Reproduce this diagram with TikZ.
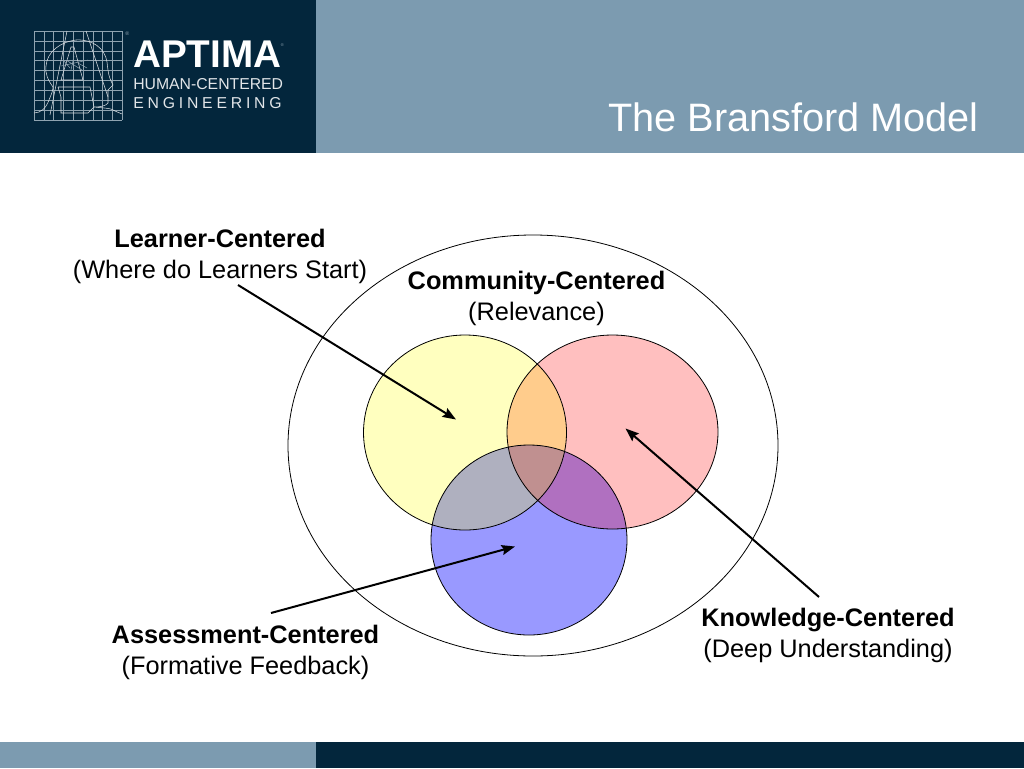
\documentclass[tikz,border=0pt]{standalone}
\usepackage{fontspec}
\setmainfont{Liberation Sans}
\usetikzlibrary{arrows.meta}
\definecolor{navy}{HTML}{03263C}
\definecolor{steel}{HTML}{7C9BB0}
\definecolor{cy}{HTML}{FFFFBF}
\definecolor{cr}{HTML}{FFBFBF}
\definecolor{cb}{HTML}{9999FF}
\definecolor{cyr}{HTML}{FFCC8C}
\definecolor{cyb}{HTML}{AFB0BF}
\definecolor{crb}{HTML}{B070C0}
\definecolor{cyrb}{HTML}{C09090}
\definecolor{logoline}{HTML}{8FA3B0}
\tikzset{
  label/.style={font=\fontsize{19}{23.25}\selectfont, align=center, inner sep=0pt, text=black},
  ring/.style={draw=black, line width=0.6pt},
  pointer/.style={draw=black, line width=1.5pt, -{Stealth[length=10pt,width=7.5pt,inset=1.5pt]}},
  grid line/.style={draw=logoline, line width=0.4pt},
  logo line/.style={draw=white!85!navy, line width=0.4pt},
  tagline/.style={inner sep=0pt,anchor=base west,text=white!88!navy,font=\fontsize{11.83}{12}\selectfont},
  yellowpath/.style={insert path={(465,432.5) ellipse [x radius=101.5, y radius=97.5]}},
  redpath/.style={insert path={(612.5,432) ellipse [x radius=105.5, y radius=97]}},
  bluepath/.style={insert path={(529,540) ellipse [x radius=98, y radius=95]}},
}
\begin{document}
\begin{tikzpicture}[x=0.75pt,y=-0.75pt]
\useasboundingbox (0,0) rectangle (1024,768);
\fill[white] (0,0) rectangle (1024,768);
% bands
\fill[steel] (316,0) rectangle (1024,153);
\fill[navy] (0,0) rectangle (316,153);
\fill[steel] (0,742) rectangle (316,768);
\fill[navy] (316,742) rectangle (1024,768);
% logo grid
\foreach \k in {0,...,9} {
  \draw[grid line] ({34+9.8*\k},31) -- ({34+9.8*\k},120);
  \draw[grid line] (34,{31+9.89*\k}) -- (122,{31+9.89*\k});
}
% logo head profile
\draw[logo line] (34,113) .. controls (41,113) and (46,108) .. (49,100) .. controls (51,95) and (53,91) .. (53,87)
  .. controls (48,80) and (45,74) .. (46,66) .. controls (47,52) and (60,42) .. (76,40)
  .. controls (92,39) and (105,48) .. (107,62) .. controls (108,70) and (108,76) .. (113,85)
  -- (108,90) -- (108,103) .. controls (106,106) and (100,107) .. (94,107)
  .. controls (102,108) and (112,108) .. (115,111) -- (122,114);
% logo letter A
\draw[logo line] (50,115) -- (67,31) (86,31) -- (108,97);
\draw[logo line] (71,47) -- (61,80) -- (83,80) -- (74,47) -- cycle;
\draw[logo line] (58,87) -- (90,87) -- (94,107) -- (88,113) -- (61,113) -- (61,97) -- (58,87);
% logo scribble
\draw[grid line] (61,66) -- (88,60) (66,60) -- (82,70) (74,56) -- (71,70) (78,63) -- (87,68) (63,60) -- (70,68);
% logo text
\node[inner sep=0pt,anchor=base west,text=white,font=\bfseries\fontsize{29}{30}\selectfont] (brand) at (133,67.5) {APTIMA};
\node[inner sep=0pt,anchor=base west,text=logoline,font=\fontsize{3}{3}\selectfont] (brandmark) at (280.5,46) {®};
\node[inner sep=0pt,anchor=base west,text=logoline,font=\fontsize{4}{4}\selectfont] (gridmark) at (125,35) {®};
\node[tagline] (tag1) at (133,89.5) {HUMAN-CENTERED};
\node[tagline] (tag2) at (133,108) {E\hspace{2.85pt}N\hspace{2.85pt}G\hspace{2.85pt}I\hspace{2.85pt}N\hspace{2.85pt}E\hspace{2.85pt}E\hspace{2.85pt}R\hspace{2.85pt}I\hspace{2.85pt}N\hspace{2.85pt}G};
% title
\node[inner sep=0pt,anchor=base east,text=white,font=\fontsize{29.75}{30}\selectfont] (title) at (979,131) {The Bransford Model};
% outer ring
\draw[ring] (533,445.5) ellipse [x radius=245, y radius=210.5];
% venn fills
\fill[cy,yellowpath];
\fill[cr,redpath];
\fill[cb,bluepath];
\begin{scope}
  \clip[yellowpath];
  \fill[cyr,redpath];
  \fill[cyb,bluepath];
  \clip[redpath];
  \fill[cyrb,bluepath];
\end{scope}
\begin{scope}
  \clip[redpath];
  \begin{scope}[even odd rule]
    \clip[yellowpath] (0,0) rectangle (1024,768);
    \fill[crb,bluepath];
  \end{scope}
\end{scope}
\draw[ring,yellowpath];
\draw[ring,redpath];
\draw[ring,bluepath];
% labels
\node[label] (learner) at (220,256) {\textbf{Learner-Centered}\\(Where do Learners Start)};
\node[label] (community) at (536.5,298.5) {\textbf{Community-Centered}\\(Relevance)};
\node[label] (assessment) at (245.5,652.5) {\textbf{Assessment-Centered}\\(Formative Feedback)};
\node[label] (knowledge) at (828,635.5) {\textbf{Knowledge-Centered}\\(Deep Understanding)};
% pointers
\coordinate (learnerFrom) at (238,285);
\coordinate (learnerTip) at (456,419.5);
\coordinate (knowledgeFrom) at (819,597);
\coordinate (knowledgeTip) at (625.5,428.5);
\coordinate (assessmentFrom) at (271,613);
\coordinate (assessmentTip) at (515,546.5);
\draw[pointer] (learnerFrom) -- (learnerTip);
\draw[pointer] (knowledgeFrom) -- (knowledgeTip);
\draw[pointer] (assessmentFrom) -- (assessmentTip);
\end{tikzpicture}
\end{document}
